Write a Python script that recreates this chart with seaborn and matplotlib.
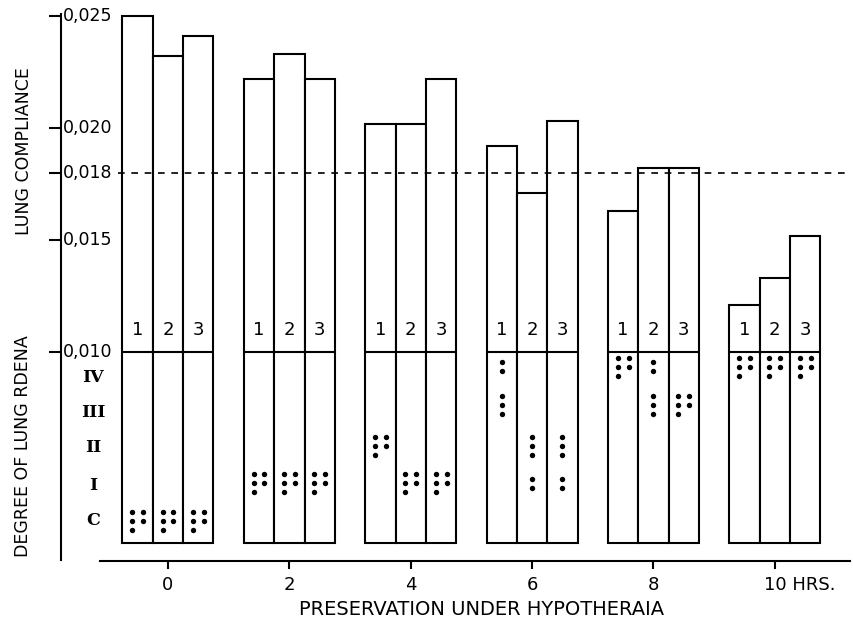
import pandas as pd
import matplotlib
matplotlib.use("Agg")
import matplotlib.pyplot as plt
import matplotlib.transforms as mtransforms
import seaborn as sns

# ---- data ----
hours = [0, 2, 4, 6, 8, 10]
hour_labels = ["0", "2", "4", "6", "8", "10 HRS."]
lungs = [1, 2, 3]

compliance_lung1 = [0.0250, 0.0222, 0.0202, 0.0192, 0.0163, 0.0121]
compliance_lung2 = [0.0232, 0.0233, 0.0202, 0.0171, 0.0182, 0.0133]
compliance_lung3 = [0.0241, 0.0222, 0.0222, 0.0203, 0.0182, 0.0152]

# oedema grade of each animal per lung (0 = C, 1 = I, ... 4 = IV)
oedema_lung1 = [[0] * 5, [1] * 5, [2] * 5, [4, 4, 3, 3, 3], [4] * 5, [4] * 5]
oedema_lung2 = [[0] * 5, [1] * 5, [1] * 5, [2, 2, 2, 1, 1], [4, 4, 3, 3, 3], [4] * 5]
oedema_lung3 = [[0] * 5, [1] * 5, [1] * 5, [2, 2, 2, 1, 1], [3] * 5, [4] * 5]

grade_names = ["C", "I", "II", "III", "IV"]
compliance_ticks = [0.010, 0.015, 0.018, 0.020, 0.025]
compliance_tick_labels = ["0,010", "0,015", "0,018", "0,020", "0,025"]
normal_compliance = 0.018

# ---- layout ----
base = 0.00147          # bottom of the bars
split_level = 0.010     # line between compliance and oedema parts
bar_step = 0.5
grade_label_y = [0.00246, 0.00406, 0.00576, 0.00732, 0.00888]
grade_dot_y = [0.00246, 0.00415, 0.0058, 0.00763, 0.00935]
dot_dx = 0.09
dot_dy = 0.0004
five_pattern = [(-1, 1), (1, 1), (-1, 0), (1, 0), (-1, -1)]

sns.set_theme(style="white")
plt.rcParams["font.family"] = ["DejaVu Sans"]
plt.rcParams["text.color"] = "black"

fig = plt.figure(figsize=(8.54, 6.23), dpi=100)
ax = fig.add_axes([0.0714, 0.0995, 0.9262, 0.8812])

# bars
rows = []
for lung, comp in zip(lungs, [compliance_lung1, compliance_lung2, compliance_lung3]):
    for h, c in zip(hours, comp):
        rows.append({"pos": h + (lung - 2) * bar_step, "height": c - base, "lung": lung})
bars = pd.DataFrame(rows)

sns.barplot(data=bars, x="pos", y="height", native_scale=True, width=1.0,
            bottom=base, color="white", saturation=1, edgecolor="black",
            linewidth=1.5, errorbar=None, ax=ax)

# oedema dots
dots = []
for lung, grades in zip(lungs, [oedema_lung1, oedema_lung2, oedema_lung3]):
    for h, g_list in zip(hours, grades):
        cx = h + (lung - 2) * bar_step
        for g in sorted(set(g_list)):
            n = g_list.count(g)
            if n == 5:
                offs = five_pattern
            else:
                offs = [(0, (n - 1) / 2 - k) for k in range(n)]
            for ox, oy in offs:
                dots.append({"x": cx + ox * dot_dx, "y": grade_dot_y[g] + oy * dot_dy})
dots = pd.DataFrame(dots)
sns.scatterplot(data=dots, x="x", y="y", color="black", s=15, linewidth=0,
                legend=False, ax=ax, zorder=5)

# divider lines and lung numbers
for h in hours:
    ax.hlines(split_level, h - 0.75, h + 0.75, color="black", lw=1.5, zorder=4)
    for lung in lungs:
        ax.text(h + (lung - 2) * bar_step, 0.01098, str(lung), ha="center",
                va="center", fontsize=13)

# normal compliance line
ax.hlines(normal_compliance, -0.82, 11.2, color="black", lw=1.2,
          linestyles=(0, (4, 4)), zorder=6)

# axes
ax.set_xlim(-1.763, 11.27)
ax.set_ylim(0.00067, 0.02518)
ax.set_xlabel("")
ax.set_ylabel("")
sns.despine(ax=ax)
ax.spines["left"].set_bounds(0.0007, 0.0251)
ax.spines["bottom"].set_bounds(-1.12, 11.24)
for s in ["left", "bottom"]:
    ax.spines[s].set_color("black")
    ax.spines[s].set_linewidth(1.5)

ax.set_xticks(hours, labels=hour_labels)
ax.tick_params(axis="x", direction="out", length=6, width=1.5, pad=5,
               labelsize=13, colors="black", bottom=True)
last = ax.get_xticklabels()[-1]
last.set_horizontalalignment("left")
last.set_transform(last.get_transform()
                   + mtransforms.ScaledTranslation(-0.11, 0, fig.dpi_scale_trans))

ax.set_yticks(compliance_ticks, labels=[""] * len(compliance_ticks))
ax.tick_params(axis="y", direction="out", length=9, width=1.5, left=True,
               colors="black")

trans = mtransforms.blended_transform_factory(ax.transAxes, ax.transData)
for v, lab in zip(compliance_ticks, compliance_tick_labels):
    ax.text(0.003, v, lab, transform=trans, ha="left", va="center", fontsize=12.5)
for y, name in zip(grade_label_y, grade_names):
    ax.text(0.0405, y, name, transform=trans, ha="center", va="center",
            fontsize=12.5, fontweight="bold", family="DejaVu Serif")

fig.text(0.028, 0.758, "LUNG COMPLIANCE", rotation=90, ha="center",
         va="center", fontsize=12.5)
fig.text(0.027, 0.284, "DEGREE OF LUNG RDENA", rotation=90, ha="center",
         va="center", fontsize=12.5)
fig.text(0.564, 0.022, "PRESERVATION UNDER HYPOTHERAIA", ha="center",
         va="center", fontsize=14)

fig.savefig("out.png", dpi=100)
